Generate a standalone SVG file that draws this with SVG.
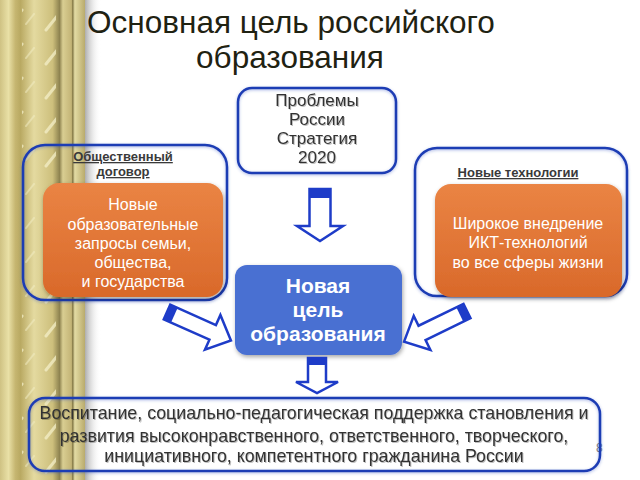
<svg xmlns="http://www.w3.org/2000/svg" width="640" height="480" viewBox="0 0 640 480">
<defs>
<linearGradient id="gold" x1="0" y1="0" x2="1" y2="0">
<stop offset="0" stop-color="#cfc283"/>
<stop offset="0.1" stop-color="#e9e0a6"/>
<stop offset="0.18" stop-color="#c6b671"/>
<stop offset="0.24" stop-color="#b9a962"/>
<stop offset="0.4" stop-color="#e4daa0"/>
<stop offset="0.62" stop-color="#cdbf7c"/>
<stop offset="0.7" stop-color="#8e8350"/>
<stop offset="0.74" stop-color="#d9ce92"/>
<stop offset="0.84" stop-color="#c3b476"/>
<stop offset="0.855" stop-color="#857a48"/>
<stop offset="0.88" stop-color="#e3dba4"/>
<stop offset="1" stop-color="#b9ab6c"/>
</linearGradient>
<linearGradient id="shade" x1="0" y1="0" x2="1" y2="0">
<stop offset="0" stop-color="#9a9a9a" stop-opacity="0.8"/>
<stop offset="1" stop-color="#ffffff" stop-opacity="0"/>
</linearGradient>
<pattern id="streaks" width="40" height="34" patternUnits="userSpaceOnUse">
<path d="M6 30 L22 10" stroke="#f4efc8" stroke-width="3" stroke-linecap="round" opacity="0.75"/>
<path d="M26 24 L34 14" stroke="#f4efc8" stroke-width="2" stroke-linecap="round" opacity="0.5"/>
</pattern>
<linearGradient id="orange" x1="0" y1="0" x2="0" y2="1">
<stop offset="0" stop-color="#ea8444"/>
<stop offset="1" stop-color="#d9692a"/>
</linearGradient>
<filter id="sh" x="-10%" y="-10%" width="125%" height="130%">
<feDropShadow dx="1" dy="2" stdDeviation="2" flood-color="#000" flood-opacity="0.35"/>
</filter>
<filter id="bs" x="-5%" y="-5%" width="110%" height="115%">
<feDropShadow dx="0" dy="1" stdDeviation="1.5" flood-color="#3050c0" flood-opacity="0.4"/>
</filter>
<filter id="ts" x="-5%" y="-10%" width="110%" height="130%">
<feDropShadow dx="1" dy="1" stdDeviation="0.6" flood-color="#000" flood-opacity="0.25"/>
</filter>
</defs>
<style>
.frame{fill:none;stroke:#1e3cb4;stroke-width:2.5}
.orange{fill:url(#orange)}
.wt{font-family:"Liberation Sans",Arial,sans-serif;fill:#ffffff;text-anchor:middle}
.dt{font-family:"Liberation Sans",Arial,sans-serif;fill:#333333;text-anchor:middle}
.lbl{font-family:"Liberation Sans",Arial,sans-serif;font-weight:bold;font-size:13px;fill:#3a3a3a;text-anchor:middle;text-decoration:underline}
.arr{fill:#ffffff;stroke:#1e3cc8;stroke-width:2.5;stroke-linejoin:miter}
.band{fill:#1e3cc8}
</style>
<rect width="640" height="480" fill="#ffffff"/>
<rect x="0" y="0" width="85" height="480" fill="url(#gold)"/>
<rect x="22" y="0" width="34" height="480" fill="url(#streaks)"/>
<rect x="85" y="0" width="16" height="480" fill="url(#shade)"/>
<g id="title">
<text x="291" y="33" font-family="Liberation Sans,Arial,sans-serif" font-size="31.5" fill="#1f2212" text-anchor="middle">Основная цель российского</text>
<text x="290" y="68" font-family="Liberation Sans,Arial,sans-serif" font-size="31.5" fill="#1f2212" text-anchor="middle">образования</text>
</g>
<g id="problems">
<rect x="238" y="88" width="158" height="85" rx="14" fill="#ffffff" class="frame" filter="url(#bs)"/>
<text class="dt" font-size="17" filter="url(#ts)"><tspan x="317" y="106">Проблемы</tspan><tspan x="317" y="125">России</tspan><tspan x="317" y="144">Стратегия</tspan><tspan x="317" y="163">2020</tspan></text>
</g>
<g id="social">
<rect x="23" y="145" width="204" height="155" rx="22" class="frame" filter="url(#bs)"/>
<text class="lbl"><tspan x="123" y="161">Общественный</tspan><tspan x="123" y="176">договор</tspan></text>
<rect x="43" y="183" width="180" height="114" rx="16" class="orange" filter="url(#sh)"/>
<text class="wt" font-size="16"><tspan x="133" y="210">Новые</tspan><tspan x="133" y="230">образовательные</tspan><tspan x="133" y="249">запросы семьи,</tspan><tspan x="133" y="268">общества,</tspan><tspan x="133" y="287">и государства</tspan></text>
</g>
<g id="tech">
<rect x="415" y="148" width="212" height="148" rx="22" class="frame" filter="url(#bs)"/>
<text class="lbl" x="518" y="177">Новые технологии</text>
<rect x="435" y="184" width="187" height="113" rx="16" class="orange" filter="url(#sh)"/>
<text class="wt" font-size="16"><tspan x="528" y="229">Широкое внедрение</tspan><tspan x="528" y="248">ИКТ-технологий</tspan><tspan x="528" y="268">во все сферы жизни</tspan></text>
</g>
<g id="goal">
<rect x="235" y="265" width="167" height="90" rx="12" fill="#4a6fd2" filter="url(#sh)"/>
<text class="wt" font-size="21" font-weight="bold"><tspan x="318" y="293">Новая</tspan><tspan x="318" y="317">цель</tspan><tspan x="318" y="341">образования</tspan></text>
</g>
<text x="596" y="452" font-family="Liberation Sans,Arial,sans-serif" font-size="12" fill="#777777">8</text>
<g id="result">
<rect x="29" y="398" width="571" height="73" rx="16" class="frame" filter="url(#bs)"/>
<text class="dt" font-size="17.8" filter="url(#ts)"><tspan x="314" y="419">Воспитание, социально-педагогическая поддержка становления и</tspan><tspan x="314" y="442">развития высоконравственного, ответственного, творческого,</tspan><tspan x="314" y="462">инициативного, компетентного гражданина России</tspan></text>
</g>
<g id="connectors">
<g transform="translate(320,189) rotate(90)">
<path class="arr" d="M0 -10.5 L37 -10.5 L37 -23 L52 0 L37 23 L37 10.5 L0 10.5 Z"/>
<rect class="band" x="0" y="-10.5" width="9" height="21"/>
</g>
<g transform="translate(317,358) rotate(90)">
<path class="arr" d="M0 -9 L24 -9 L24 -21 L35 0 L24 21 L24 9 L0 9 Z"/>
<rect class="band" x="0" y="-9" width="7" height="18"/>
</g>
<g transform="translate(167,312) rotate(24)">
<path class="arr" d="M0 -8 L50 -8 L50 -19 L70 0 L50 19 L50 8 L0 8 Z"/>
<rect class="band" x="0" y="-8" width="8" height="16"/>
</g>
<g transform="translate(467,311) rotate(154)">
<path class="arr" d="M0 -8 L50 -8 L50 -19 L70 0 L50 19 L50 8 L0 8 Z"/>
<rect class="band" x="0" y="-8" width="8" height="16"/>
</g>
</g>
</svg>
